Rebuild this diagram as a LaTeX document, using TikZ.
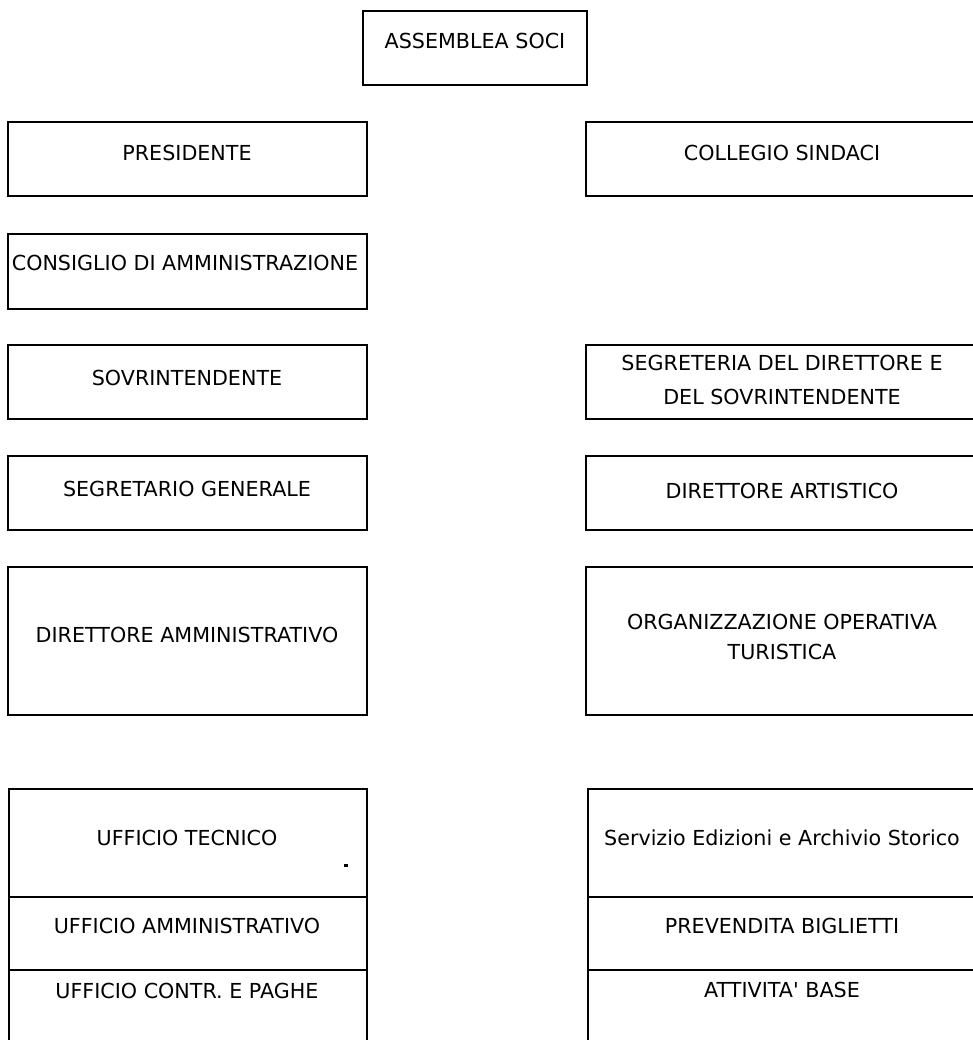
\documentclass[tikz,border=0pt]{standalone}
\usepackage{fontspec}
\setmainfont{DejaVu Sans}
\begin{document}
\begin{tikzpicture}[x=0.75pt,y=-0.75pt,
  box/.style={line width=1.7pt},
  lbl/.style={anchor=base,inner sep=0pt,font=\fontsize{15.5}{24}\selectfont},
  lbltwo/.style={lbl,anchor=north,align=center}]

\useasboundingbox (0,0) rectangle (973,1040);
\clip (0,0) rectangle (973,1040);

% top
\draw[box] (363,11) rectangle (587,85);
\node[lbl] (assemblea) at (475,48) {ASSEMBLEA SOCI};

% left column
\draw[box] (8,122) rectangle (367,196);
\draw[box] (8,234) rectangle (367,309);
\draw[box] (8,345) rectangle (367,419);
\draw[box] (8,456) rectangle (367,530);
\draw[box] (8,567) rectangle (367,715);
\draw[box] (9,789) rectangle (367,1050);
\draw[box] (9,897) -- (367,897);
\draw[box] (9,970) -- (367,970);

\node[lbl] (presidente) at (187,160) {PRESIDENTE};
\node[lbl] (consiglio) at (185,270) {CONSIGLIO DI AMMINISTRAZIONE};
\node[lbl] (sovrint) at (187,385) {SOVRINTENDENTE};
\node[lbl] (segretario) at (187,496) {SEGRETARIO GENERALE};
\node[lbl] (diramm) at (187,642) {DIRETTORE AMMINISTRATIVO};
\node[lbl] (ufftec) at (187,845) {UFFICIO TECNICO};
\node[lbl] (uffamm) at (187,933) {UFFICIO AMMINISTRATIVO};
\node[lbl] (uffcontr) at (187,998) {UFFICIO CONTR. E PAGHE};

% right column
\draw[box] (586,122) rectangle (985,196);
\draw[box] (586,345) rectangle (985,419);
\draw[box] (586,456) rectangle (985,530);
\draw[box] (586,567) rectangle (985,715);
\draw[box] (588,789) rectangle (985,1050);
\draw[box] (588,897) -- (985,897);
\draw[box] (588,970) -- (985,970);

\node[lbl] (collegio) at (782,160) {COLLEGIO SINDACI};
\node[lbltwo,font=\fontsize{15.5}{25.5}\selectfont] (segreteria) at (782,355) {SEGRETERIA DEL DIRETTORE E\\DEL SOVRINTENDENTE};
\node[lbl] (dirart) at (782,498) {DIRETTORE ARTISTICO};
\node[lbltwo,font=\fontsize{15.5}{22.5}\selectfont] (organizz) at (782,614) {ORGANIZZAZIONE OPERATIVA\\TURISTICA};
\node[lbl] (servizio) at (782,845) {Servizio Edizioni e Archivio Storico};
\node[lbl] (prevendita) at (782,933) {PREVENDITA BIGLIETTI};
\node[lbl] (attivita) at (782,997) {ATTIVITA\textquotesingle{} BASE};

\fill (344,864) rectangle (348,867);

\end{tikzpicture}
\end{document}
